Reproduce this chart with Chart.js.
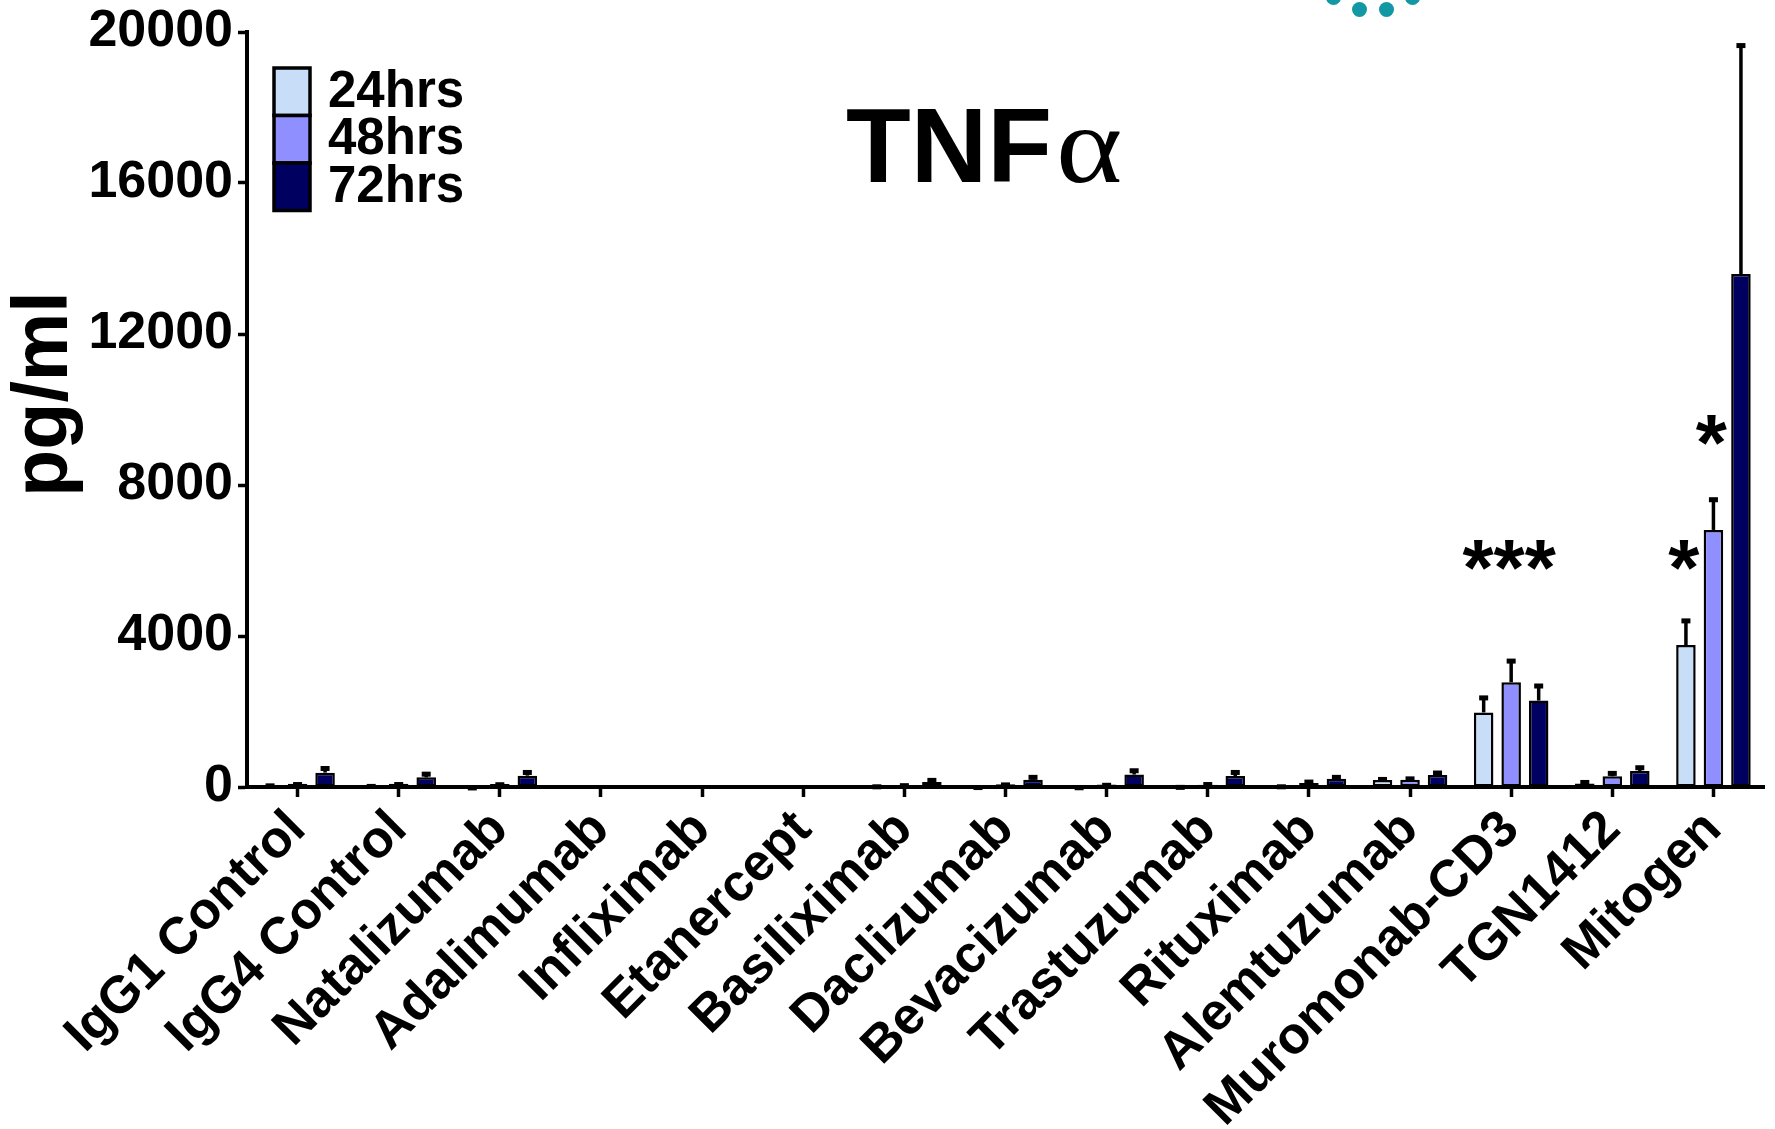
<!DOCTYPE html>
<html><head><meta charset="utf-8">
<script src="https://cdn.jsdelivr.net/npm/chart.js@4/dist/chart.umd.min.js"></script>
<style>
html,body{margin:0;padding:0;background:#fff;}
#wrap{position:relative;width:1775px;height:1129px;overflow:hidden;background:#fff;}
canvas{display:block;}
.dot{position:absolute;width:15px;height:15px;border-radius:50%;background:#1298a4;}
</style></head><body>
<div id="wrap">
<canvas id="c" width="1775" height="1129"></canvas>
<div class="dot" style="left:1326px;top:-10px"></div>
<div class="dot" style="left:1352px;top:2px"></div>
<div class="dot" style="left:1379px;top:2px"></div>
<div class="dot" style="left:1405px;top:-10px"></div>
</div>
<script>
// ---------- data ----------
const categories = ['IgG1 Control','IgG4 Control','Natalizumab','Adalimumab','Infliximab','Etanercept','Basiliximab','Daclizumab','Bevacizumab','Trastuzumab','Rituximab','Alemtuzumab','Muromonab-CD3','TGN1412','Mitogen'];
const seriesLabels = ['24hrs','48hrs','72hrs'];
const values24 = [50, 40, 10, 0, 0, 0, 30, 15, 10, 20, 35, 185, 1975, 90, 3760];
const errors24 = [20, 15, 5, 0, 0, 0, 15, 10, 10, 10, 10, 55, 425, 70, 680];
const values48 = [85, 85, 80, 0, 0, 0, 55, 70, 65, 60, 105, 195, 2775, 285, 6810];
const errors48 = [20, 20, 20, 0, 0, 0, 20, 25, 20, 45, 65, 60, 600, 115, 840];
const values72 = [380, 255, 300, 0, 0, 0, 135, 195, 330, 290, 220, 320, 2290, 425, 13590];
const errors72 = [150, 125, 125, 0, 0, 0, 80, 100, 140, 135, 75, 90, 425, 125, 6090];
const yTicks = [0, 4000, 8000, 12000, 16000, 20000];
const titleMain = 'TNF';
const titleGreek = 'α';
const yAxisTitle = 'pg/ml';
const sigLabels = ['***', '*', '*'];
const sigCategories = ['Muromonab-CD3', 'Mitogen', 'Mitogen'];
const sigSeries = [1, 0, 1];
const sigValues = [6260, 6260, 9550];

// ---------- style ----------
const colors = ['#c8ddf7', '#8f8fff', '#000060'];
const SANS = '"Liberation Sans", Arial, Helvetica, sans-serif';
const SERIF = '"Liberation Serif", "Times New Roman", serif';

const errorBars = {
  id: 'errorBars',
  afterDatasetsDraw(chart) {
    const ctx = chart.ctx, y = chart.scales.y;
    chart.data.datasets.forEach((ds, i) => {
      const meta = chart.getDatasetMeta(i);
      meta.data.forEach((el, j) => {
        const err = ds.errors[j];
        if (!err) return;
        const top = y.getPixelForValue(ds.data[j] + err);
        ctx.save();
        ctx.strokeStyle = '#000';
        ctx.lineWidth = 3.5;
        ctx.beginPath();
        ctx.moveTo(el.x, el.y);
        ctx.lineTo(el.x, top);
        ctx.stroke();
        ctx.fillStyle = '#000';
        ctx.fillRect(el.x - 4.5, top - 1, 9, 5);
        ctx.restore();
      });
    });
  }
};

const sigMarks = {
  id: 'sigMarks',
  afterDatasetsDraw(chart) {
    const ctx = chart.ctx, y = chart.scales.y;
    ctx.save();
    ctx.fillStyle = '#000';
    ctx.font = 'bold 80px ' + SANS;
    ctx.textAlign = 'center';
    ctx.textBaseline = 'alphabetic';
    sigLabels.forEach((t, k) => {
      const j = categories.indexOf(sigCategories[k]);
      const el = chart.getDatasetMeta(sigSeries[k]).data[j];
      const py = y.getPixelForValue(sigValues[k]);
      ctx.fillText(t, el.x - 2, py + 44);
    });
    ctx.restore();
  }
};

const boxLegend = {
  id: 'boxLegend',
  afterDraw(chart) {
    const ctx = chart.ctx;
    const bx = 274, bw = 36, bh = 47.5, by0 = 68;
    ctx.save();
    chart.data.datasets.forEach((ds, i) => {
      const by = by0 + i * bh;
      ctx.fillStyle = ds.backgroundColor;
      ctx.fillRect(bx, by, bw, bh);
      ctx.strokeStyle = '#000';
      ctx.lineWidth = 3.5;
      ctx.strokeRect(bx, by, bw, bh);
      ctx.fillStyle = '#000';
      ctx.font = 'bold 51px ' + SANS;
      ctx.textAlign = 'left';
      ctx.textBaseline = 'middle';
      ctx.fillText(ds.label, 328, by + bh / 2 + 1);
    });
    ctx.restore();
  }
};

const bigTitle = {
  id: 'bigTitle',
  afterDraw(chart) {
    const ctx = chart.ctx;
    ctx.save();
    ctx.fillStyle = '#000';
    ctx.textBaseline = 'alphabetic';
    ctx.textAlign = 'left';
    ctx.font = 'bold 106px ' + SANS;
    const x0 = 846, base = 182;
    ctx.fillText(titleMain, x0, base);
    const w = ctx.measureText(titleMain).width;
    ctx.translate(x0 + w + 4, base);
    ctx.scale(1.15, 1);
    ctx.font = '110px ' + SERIF;
    ctx.fillText(titleGreek, 0, 0);
    ctx.restore();
  }
};

const yTitle = {
  id: 'yTitle',
  afterDraw(chart) {
    const ctx = chart.ctx;
    ctx.save();
    ctx.translate(46, 394);
    ctx.rotate(-Math.PI / 2);
    ctx.fillStyle = '#000';
    ctx.font = 'bold 77px ' + SANS;
    ctx.textAlign = 'center';
    ctx.textBaseline = 'middle';
    ctx.fillText(yAxisTitle, 0, 0);
    ctx.restore();
  }
};

function zeroPad(s) { s.paddingLeft = 0; s.paddingRight = 0; s.paddingTop = 0; s.paddingBottom = 0; }

new Chart(document.getElementById('c'), {
  type: 'bar',
  data: {
    labels: categories,
    datasets: [
      { label: seriesLabels[0], data: values24, errors: errors24, backgroundColor: colors[0] },
      { label: seriesLabels[1], data: values48, errors: errors48, backgroundColor: colors[1] },
      { label: seriesLabels[2], data: values72, errors: errors72, backgroundColor: colors[2] }
    ]
  },
  options: {
    responsive: false,
    animation: false,
    devicePixelRatio: 1,
    layout: { padding: { top: 32, right: 11, left: 0, bottom: 0 } },
    datasets: { bar: { categoryPercentage: 0.816, barPercentage: 0.71, borderColor: '#000', borderWidth: 2.5, borderSkipped: false } },
    plugins: { legend: { display: false }, tooltip: { enabled: false }, title: { display: false } },
    scales: {
      x: {
        offset: true,
        grid: { offset: false, drawOnChartArea: false, drawTicks: true, tickLength: 10, tickWidth: 3.5, tickColor: '#000' },
        border: { display: true, width: 4, color: '#000' },
        ticks: { autoSkip: false, maxRotation: 45, minRotation: 45, color: '#000', padding: 2,
                 font: { family: SANS, size: 52, weight: 'bold' } },
        afterFit: s => { s.height = 342; zeroPad(s); }
      },
      y: {
        min: 0, max: 20000,
        afterBuildTicks: s => { s.ticks = yTicks.map(v => ({ value: v })); },
        grid: { drawOnChartArea: false, drawTicks: true, tickLength: 9, tickWidth: 3.5, tickColor: '#000' },
        border: { display: true, width: 4, color: '#000' },
        ticks: { color: '#000', padding: 5, callback: v => String(v),
                 font: { family: SANS, size: 52, weight: 'bold' } },
        title: { display: false },
        afterFit: s => { s.width = 247; zeroPad(s); }
      }
    }
  },
  plugins: [errorBars, sigMarks, boxLegend, bigTitle, yTitle]
});
</script>
</body></html>
